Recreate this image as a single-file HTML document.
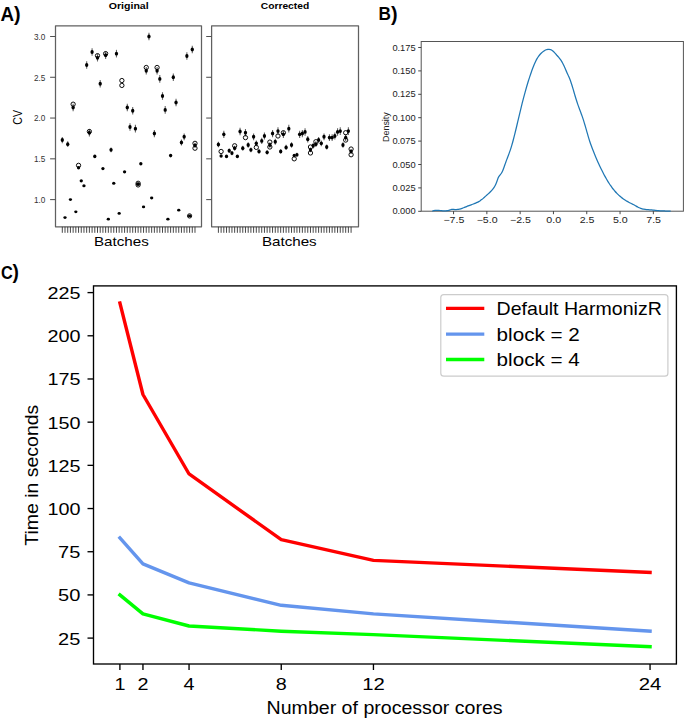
<!DOCTYPE html>
<html><head><meta charset="utf-8"><style>
html,body{margin:0;padding:0;background:#fff;}
svg{display:block;font-family:"Liberation Sans", sans-serif;}
</style></head><body>
<svg width="685" height="719" viewBox="0 0 685 719">
<rect width="685" height="719" fill="#fff"/>
<text x="0.5" y="21.0" font-size="19.8" font-weight="bold" textLength="13.6" lengthAdjust="spacingAndGlyphs" fill="#000">A</text>
<text x="13.9" y="20.9" font-size="19.6" font-weight="bold" textLength="6.6" lengthAdjust="spacingAndGlyphs" fill="#000">)</text>
<text x="128.7" y="8.8" font-size="9.6" text-anchor="middle" font-weight="bold" textLength="39.9" lengthAdjust="spacingAndGlyphs" fill="#000">Original</text>
<text x="285.0" y="8.8" font-size="9.6" text-anchor="middle" font-weight="bold" textLength="48.4" lengthAdjust="spacingAndGlyphs" fill="#000">Corrected</text>
<rect x="55.5" y="25.8" width="146.0" height="201.0" fill="none" stroke="#606060" stroke-width="1.25" stroke-linejoin="round"/>
<line x1="50.1" y1="36.5" x2="55.5" y2="36.5" stroke="#505050" stroke-width="1.05"/>
<text x="45.3" y="39.9" font-size="9" text-anchor="end" textLength="11.4" lengthAdjust="spacingAndGlyphs" fill="#333">3.0</text>
<line x1="50.1" y1="77.275" x2="55.5" y2="77.275" stroke="#505050" stroke-width="1.05"/>
<text x="45.3" y="80.67500000000001" font-size="9" text-anchor="end" textLength="11.4" lengthAdjust="spacingAndGlyphs" fill="#333">2.5</text>
<line x1="50.1" y1="118.05" x2="55.5" y2="118.05" stroke="#505050" stroke-width="1.05"/>
<text x="45.3" y="121.45" font-size="9" text-anchor="end" textLength="11.4" lengthAdjust="spacingAndGlyphs" fill="#333">2.0</text>
<line x1="50.1" y1="158.825" x2="55.5" y2="158.825" stroke="#505050" stroke-width="1.05"/>
<text x="45.3" y="162.225" font-size="9" text-anchor="end" textLength="11.4" lengthAdjust="spacingAndGlyphs" fill="#333">1.5</text>
<line x1="50.1" y1="199.6" x2="55.5" y2="199.6" stroke="#505050" stroke-width="1.05"/>
<text x="45.3" y="203.0" font-size="9" text-anchor="end" textLength="11.4" lengthAdjust="spacingAndGlyphs" fill="#333">1.0</text>
<line x1="62.30" y1="226.8" x2="62.30" y2="232.8" stroke="#333" stroke-width="0.9"/>
<line x1="65.01" y1="226.8" x2="65.01" y2="232.8" stroke="#333" stroke-width="0.9"/>
<line x1="67.72" y1="226.8" x2="67.72" y2="232.8" stroke="#333" stroke-width="0.9"/>
<line x1="70.42" y1="226.8" x2="70.42" y2="232.8" stroke="#333" stroke-width="0.9"/>
<line x1="73.13" y1="226.8" x2="73.13" y2="232.8" stroke="#333" stroke-width="0.9"/>
<line x1="75.84" y1="226.8" x2="75.84" y2="232.8" stroke="#333" stroke-width="0.9"/>
<line x1="78.55" y1="226.8" x2="78.55" y2="232.8" stroke="#333" stroke-width="0.9"/>
<line x1="81.26" y1="226.8" x2="81.26" y2="232.8" stroke="#333" stroke-width="0.9"/>
<line x1="83.96" y1="226.8" x2="83.96" y2="232.8" stroke="#333" stroke-width="0.9"/>
<line x1="86.67" y1="226.8" x2="86.67" y2="232.8" stroke="#333" stroke-width="0.9"/>
<line x1="89.38" y1="226.8" x2="89.38" y2="232.8" stroke="#333" stroke-width="0.9"/>
<line x1="92.09" y1="226.8" x2="92.09" y2="232.8" stroke="#333" stroke-width="0.9"/>
<line x1="94.80" y1="226.8" x2="94.80" y2="232.8" stroke="#333" stroke-width="0.9"/>
<line x1="97.50" y1="226.8" x2="97.50" y2="232.8" stroke="#333" stroke-width="0.9"/>
<line x1="100.21" y1="226.8" x2="100.21" y2="232.8" stroke="#333" stroke-width="0.9"/>
<line x1="102.92" y1="226.8" x2="102.92" y2="232.8" stroke="#333" stroke-width="0.9"/>
<line x1="105.63" y1="226.8" x2="105.63" y2="232.8" stroke="#333" stroke-width="0.9"/>
<line x1="108.34" y1="226.8" x2="108.34" y2="232.8" stroke="#333" stroke-width="0.9"/>
<line x1="111.04" y1="226.8" x2="111.04" y2="232.8" stroke="#333" stroke-width="0.9"/>
<line x1="113.75" y1="226.8" x2="113.75" y2="232.8" stroke="#333" stroke-width="0.9"/>
<line x1="116.46" y1="226.8" x2="116.46" y2="232.8" stroke="#333" stroke-width="0.9"/>
<line x1="119.17" y1="226.8" x2="119.17" y2="232.8" stroke="#333" stroke-width="0.9"/>
<line x1="121.88" y1="226.8" x2="121.88" y2="232.8" stroke="#333" stroke-width="0.9"/>
<line x1="124.58" y1="226.8" x2="124.58" y2="232.8" stroke="#333" stroke-width="0.9"/>
<line x1="127.29" y1="226.8" x2="127.29" y2="232.8" stroke="#333" stroke-width="0.9"/>
<line x1="130.00" y1="226.8" x2="130.00" y2="232.8" stroke="#333" stroke-width="0.9"/>
<line x1="132.71" y1="226.8" x2="132.71" y2="232.8" stroke="#333" stroke-width="0.9"/>
<line x1="135.42" y1="226.8" x2="135.42" y2="232.8" stroke="#333" stroke-width="0.9"/>
<line x1="138.12" y1="226.8" x2="138.12" y2="232.8" stroke="#333" stroke-width="0.9"/>
<line x1="140.83" y1="226.8" x2="140.83" y2="232.8" stroke="#333" stroke-width="0.9"/>
<line x1="143.54" y1="226.8" x2="143.54" y2="232.8" stroke="#333" stroke-width="0.9"/>
<line x1="146.25" y1="226.8" x2="146.25" y2="232.8" stroke="#333" stroke-width="0.9"/>
<line x1="148.96" y1="226.8" x2="148.96" y2="232.8" stroke="#333" stroke-width="0.9"/>
<line x1="151.66" y1="226.8" x2="151.66" y2="232.8" stroke="#333" stroke-width="0.9"/>
<line x1="154.37" y1="226.8" x2="154.37" y2="232.8" stroke="#333" stroke-width="0.9"/>
<line x1="157.08" y1="226.8" x2="157.08" y2="232.8" stroke="#333" stroke-width="0.9"/>
<line x1="159.79" y1="226.8" x2="159.79" y2="232.8" stroke="#333" stroke-width="0.9"/>
<line x1="162.50" y1="226.8" x2="162.50" y2="232.8" stroke="#333" stroke-width="0.9"/>
<line x1="165.20" y1="226.8" x2="165.20" y2="232.8" stroke="#333" stroke-width="0.9"/>
<line x1="167.91" y1="226.8" x2="167.91" y2="232.8" stroke="#333" stroke-width="0.9"/>
<line x1="170.62" y1="226.8" x2="170.62" y2="232.8" stroke="#333" stroke-width="0.9"/>
<line x1="173.33" y1="226.8" x2="173.33" y2="232.8" stroke="#333" stroke-width="0.9"/>
<line x1="176.04" y1="226.8" x2="176.04" y2="232.8" stroke="#333" stroke-width="0.9"/>
<line x1="178.74" y1="226.8" x2="178.74" y2="232.8" stroke="#333" stroke-width="0.9"/>
<line x1="181.45" y1="226.8" x2="181.45" y2="232.8" stroke="#333" stroke-width="0.9"/>
<line x1="184.16" y1="226.8" x2="184.16" y2="232.8" stroke="#333" stroke-width="0.9"/>
<line x1="186.87" y1="226.8" x2="186.87" y2="232.8" stroke="#333" stroke-width="0.9"/>
<line x1="189.58" y1="226.8" x2="189.58" y2="232.8" stroke="#333" stroke-width="0.9"/>
<line x1="192.28" y1="226.8" x2="192.28" y2="232.8" stroke="#333" stroke-width="0.9"/>
<line x1="194.99" y1="226.8" x2="194.99" y2="232.8" stroke="#333" stroke-width="0.9"/>
<rect x="211.6" y="25.8" width="146.9" height="201.0" fill="none" stroke="#606060" stroke-width="1.25" stroke-linejoin="round"/>
<line x1="206.2" y1="36.5" x2="211.6" y2="36.5" stroke="#505050" stroke-width="1.05"/>
<line x1="206.2" y1="77.275" x2="211.6" y2="77.275" stroke="#505050" stroke-width="1.05"/>
<line x1="206.2" y1="118.05" x2="211.6" y2="118.05" stroke="#505050" stroke-width="1.05"/>
<line x1="206.2" y1="158.825" x2="211.6" y2="158.825" stroke="#505050" stroke-width="1.05"/>
<line x1="206.2" y1="199.6" x2="211.6" y2="199.6" stroke="#505050" stroke-width="1.05"/>
<line x1="218.40" y1="226.8" x2="218.40" y2="232.8" stroke="#333" stroke-width="0.9"/>
<line x1="221.11" y1="226.8" x2="221.11" y2="232.8" stroke="#333" stroke-width="0.9"/>
<line x1="223.82" y1="226.8" x2="223.82" y2="232.8" stroke="#333" stroke-width="0.9"/>
<line x1="226.52" y1="226.8" x2="226.52" y2="232.8" stroke="#333" stroke-width="0.9"/>
<line x1="229.23" y1="226.8" x2="229.23" y2="232.8" stroke="#333" stroke-width="0.9"/>
<line x1="231.94" y1="226.8" x2="231.94" y2="232.8" stroke="#333" stroke-width="0.9"/>
<line x1="234.65" y1="226.8" x2="234.65" y2="232.8" stroke="#333" stroke-width="0.9"/>
<line x1="237.36" y1="226.8" x2="237.36" y2="232.8" stroke="#333" stroke-width="0.9"/>
<line x1="240.06" y1="226.8" x2="240.06" y2="232.8" stroke="#333" stroke-width="0.9"/>
<line x1="242.77" y1="226.8" x2="242.77" y2="232.8" stroke="#333" stroke-width="0.9"/>
<line x1="245.48" y1="226.8" x2="245.48" y2="232.8" stroke="#333" stroke-width="0.9"/>
<line x1="248.19" y1="226.8" x2="248.19" y2="232.8" stroke="#333" stroke-width="0.9"/>
<line x1="250.90" y1="226.8" x2="250.90" y2="232.8" stroke="#333" stroke-width="0.9"/>
<line x1="253.60" y1="226.8" x2="253.60" y2="232.8" stroke="#333" stroke-width="0.9"/>
<line x1="256.31" y1="226.8" x2="256.31" y2="232.8" stroke="#333" stroke-width="0.9"/>
<line x1="259.02" y1="226.8" x2="259.02" y2="232.8" stroke="#333" stroke-width="0.9"/>
<line x1="261.73" y1="226.8" x2="261.73" y2="232.8" stroke="#333" stroke-width="0.9"/>
<line x1="264.44" y1="226.8" x2="264.44" y2="232.8" stroke="#333" stroke-width="0.9"/>
<line x1="267.14" y1="226.8" x2="267.14" y2="232.8" stroke="#333" stroke-width="0.9"/>
<line x1="269.85" y1="226.8" x2="269.85" y2="232.8" stroke="#333" stroke-width="0.9"/>
<line x1="272.56" y1="226.8" x2="272.56" y2="232.8" stroke="#333" stroke-width="0.9"/>
<line x1="275.27" y1="226.8" x2="275.27" y2="232.8" stroke="#333" stroke-width="0.9"/>
<line x1="277.98" y1="226.8" x2="277.98" y2="232.8" stroke="#333" stroke-width="0.9"/>
<line x1="280.68" y1="226.8" x2="280.68" y2="232.8" stroke="#333" stroke-width="0.9"/>
<line x1="283.39" y1="226.8" x2="283.39" y2="232.8" stroke="#333" stroke-width="0.9"/>
<line x1="286.10" y1="226.8" x2="286.10" y2="232.8" stroke="#333" stroke-width="0.9"/>
<line x1="288.81" y1="226.8" x2="288.81" y2="232.8" stroke="#333" stroke-width="0.9"/>
<line x1="291.52" y1="226.8" x2="291.52" y2="232.8" stroke="#333" stroke-width="0.9"/>
<line x1="294.22" y1="226.8" x2="294.22" y2="232.8" stroke="#333" stroke-width="0.9"/>
<line x1="296.93" y1="226.8" x2="296.93" y2="232.8" stroke="#333" stroke-width="0.9"/>
<line x1="299.64" y1="226.8" x2="299.64" y2="232.8" stroke="#333" stroke-width="0.9"/>
<line x1="302.35" y1="226.8" x2="302.35" y2="232.8" stroke="#333" stroke-width="0.9"/>
<line x1="305.06" y1="226.8" x2="305.06" y2="232.8" stroke="#333" stroke-width="0.9"/>
<line x1="307.76" y1="226.8" x2="307.76" y2="232.8" stroke="#333" stroke-width="0.9"/>
<line x1="310.47" y1="226.8" x2="310.47" y2="232.8" stroke="#333" stroke-width="0.9"/>
<line x1="313.18" y1="226.8" x2="313.18" y2="232.8" stroke="#333" stroke-width="0.9"/>
<line x1="315.89" y1="226.8" x2="315.89" y2="232.8" stroke="#333" stroke-width="0.9"/>
<line x1="318.60" y1="226.8" x2="318.60" y2="232.8" stroke="#333" stroke-width="0.9"/>
<line x1="321.30" y1="226.8" x2="321.30" y2="232.8" stroke="#333" stroke-width="0.9"/>
<line x1="324.01" y1="226.8" x2="324.01" y2="232.8" stroke="#333" stroke-width="0.9"/>
<line x1="326.72" y1="226.8" x2="326.72" y2="232.8" stroke="#333" stroke-width="0.9"/>
<line x1="329.43" y1="226.8" x2="329.43" y2="232.8" stroke="#333" stroke-width="0.9"/>
<line x1="332.14" y1="226.8" x2="332.14" y2="232.8" stroke="#333" stroke-width="0.9"/>
<line x1="334.84" y1="226.8" x2="334.84" y2="232.8" stroke="#333" stroke-width="0.9"/>
<line x1="337.55" y1="226.8" x2="337.55" y2="232.8" stroke="#333" stroke-width="0.9"/>
<line x1="340.26" y1="226.8" x2="340.26" y2="232.8" stroke="#333" stroke-width="0.9"/>
<line x1="342.97" y1="226.8" x2="342.97" y2="232.8" stroke="#333" stroke-width="0.9"/>
<line x1="345.68" y1="226.8" x2="345.68" y2="232.8" stroke="#333" stroke-width="0.9"/>
<line x1="348.38" y1="226.8" x2="348.38" y2="232.8" stroke="#333" stroke-width="0.9"/>
<line x1="351.09" y1="226.8" x2="351.09" y2="232.8" stroke="#333" stroke-width="0.9"/>
<text x="121.4" y="245.8" font-size="13" text-anchor="middle" textLength="54.8" lengthAdjust="spacingAndGlyphs" fill="#000">Batches</text>
<text x="289.3" y="245.8" font-size="13" text-anchor="middle" textLength="54.8" lengthAdjust="spacingAndGlyphs" fill="#000">Batches</text>
<text x="22" y="117.3" font-size="12.0" text-anchor="middle" textLength="14.8" lengthAdjust="spacingAndGlyphs" transform="rotate(-90 22 117.3)" fill="#000">CV</text>
<line x1="62.30" y1="136.95" x2="62.30" y2="143.19" stroke="#666" stroke-width="1.1"/>
<ellipse cx="62.30" cy="140.07" rx="1.65" ry="1.95" fill="#000"/>
<line x1="67.72" y1="141.35" x2="67.72" y2="146.94" stroke="#666" stroke-width="1.1"/>
<ellipse cx="67.72" cy="144.15" rx="1.65" ry="1.94" fill="#000"/>
<ellipse cx="70.42" cy="199.60" rx="1.65" ry="1.43" fill="#000"/>
<ellipse cx="65.01" cy="217.54" rx="1.65" ry="1.35" fill="#000"/>
<line x1="73.13" y1="103.65" x2="73.13" y2="111.25" stroke="#666" stroke-width="1.1"/>
<ellipse cx="73.13" cy="107.45" rx="1.65" ry="1.95" fill="#000"/>
<circle cx="73.13" cy="104.19" r="2.15" fill="none" stroke="#000" stroke-width="0.95"/>
<ellipse cx="75.84" cy="211.83" rx="1.65" ry="1.35" fill="#000"/>
<ellipse cx="78.55" cy="167.80" rx="1.65" ry="1.72" fill="#000"/>
<circle cx="78.55" cy="165.35" r="2.15" fill="none" stroke="#000" stroke-width="0.95"/>
<ellipse cx="81.26" cy="180.84" rx="1.65" ry="1.60" fill="#000"/>
<ellipse cx="83.96" cy="185.74" rx="1.65" ry="1.55" fill="#000"/>
<line x1="86.67" y1="61.24" x2="86.67" y2="68.84" stroke="#666" stroke-width="1.1"/>
<ellipse cx="86.67" cy="65.04" rx="1.65" ry="1.95" fill="#000"/>
<line x1="89.38" y1="129.02" x2="89.38" y2="136.43" stroke="#666" stroke-width="1.1"/>
<ellipse cx="89.38" cy="132.73" rx="1.65" ry="1.95" fill="#000"/>
<circle cx="89.38" cy="131.51" r="2.15" fill="none" stroke="#000" stroke-width="0.95"/>
<line x1="92.09" y1="48.19" x2="92.09" y2="55.79" stroke="#666" stroke-width="1.1"/>
<ellipse cx="92.09" cy="51.99" rx="1.65" ry="1.95" fill="#000"/>
<ellipse cx="94.80" cy="156.38" rx="1.65" ry="1.82" fill="#000"/>
<line x1="97.50" y1="53.90" x2="97.50" y2="61.50" stroke="#666" stroke-width="1.1"/>
<ellipse cx="97.50" cy="57.70" rx="1.65" ry="1.95" fill="#000"/>
<circle cx="97.50" cy="55.66" r="2.15" fill="none" stroke="#000" stroke-width="0.95"/>
<line x1="100.21" y1="80.00" x2="100.21" y2="87.60" stroke="#666" stroke-width="1.1"/>
<ellipse cx="100.21" cy="83.80" rx="1.65" ry="1.95" fill="#000"/>
<ellipse cx="102.92" cy="168.61" rx="1.65" ry="1.71" fill="#000"/>
<line x1="105.63" y1="51.46" x2="105.63" y2="59.06" stroke="#666" stroke-width="1.1"/>
<ellipse cx="105.63" cy="55.26" rx="1.65" ry="1.95" fill="#000"/>
<circle cx="105.63" cy="53.63" r="2.15" fill="none" stroke="#000" stroke-width="0.95"/>
<ellipse cx="108.34" cy="219.17" rx="1.65" ry="1.35" fill="#000"/>
<line x1="111.04" y1="147.51" x2="111.04" y2="152.19" stroke="#666" stroke-width="1.1"/>
<ellipse cx="111.04" cy="149.85" rx="1.65" ry="1.88" fill="#000"/>
<ellipse cx="113.75" cy="183.29" rx="1.65" ry="1.57" fill="#000"/>
<line x1="116.46" y1="49.83" x2="116.46" y2="57.43" stroke="#666" stroke-width="1.1"/>
<ellipse cx="116.46" cy="53.63" rx="1.65" ry="1.95" fill="#000"/>
<ellipse cx="119.17" cy="213.46" rx="1.65" ry="1.35" fill="#000"/>
<circle cx="121.88" cy="80.54" r="2.15" fill="none" stroke="#000" stroke-width="0.95"/>
<circle cx="121.88" cy="85.43" r="2.15" fill="none" stroke="#000" stroke-width="0.95"/>
<ellipse cx="124.58" cy="171.87" rx="1.65" ry="1.68" fill="#000"/>
<line x1="127.29" y1="103.65" x2="127.29" y2="111.25" stroke="#666" stroke-width="1.1"/>
<ellipse cx="127.29" cy="107.45" rx="1.65" ry="1.95" fill="#000"/>
<line x1="130.00" y1="123.22" x2="130.00" y2="130.82" stroke="#666" stroke-width="1.1"/>
<ellipse cx="130.00" cy="127.02" rx="1.65" ry="1.95" fill="#000"/>
<line x1="132.71" y1="106.91" x2="132.71" y2="114.51" stroke="#666" stroke-width="1.1"/>
<ellipse cx="132.71" cy="110.71" rx="1.65" ry="1.95" fill="#000"/>
<line x1="135.42" y1="124.85" x2="135.42" y2="132.45" stroke="#666" stroke-width="1.1"/>
<ellipse cx="135.42" cy="128.65" rx="1.65" ry="1.95" fill="#000"/>
<circle cx="138.12" cy="183.29" r="2.15" fill="none" stroke="#000" stroke-width="0.95"/>
<circle cx="138.12" cy="184.92" r="2.15" fill="none" stroke="#000" stroke-width="0.95"/>
<ellipse cx="138.12" cy="184.11" rx="1.65" ry="1.57" fill="#000"/>
<ellipse cx="140.83" cy="163.72" rx="1.65" ry="1.75" fill="#000"/>
<ellipse cx="143.54" cy="206.94" rx="1.65" ry="1.36" fill="#000"/>
<line x1="146.25" y1="66.95" x2="146.25" y2="74.55" stroke="#666" stroke-width="1.1"/>
<ellipse cx="146.25" cy="70.75" rx="1.65" ry="1.95" fill="#000"/>
<circle cx="146.25" cy="67.49" r="2.15" fill="none" stroke="#000" stroke-width="0.95"/>
<line x1="148.96" y1="32.70" x2="148.96" y2="40.30" stroke="#666" stroke-width="1.1"/>
<ellipse cx="148.96" cy="36.50" rx="1.65" ry="1.95" fill="#000"/>
<ellipse cx="151.66" cy="197.97" rx="1.65" ry="1.44" fill="#000"/>
<line x1="154.37" y1="129.90" x2="154.37" y2="137.18" stroke="#666" stroke-width="1.1"/>
<ellipse cx="154.37" cy="133.54" rx="1.65" ry="1.95" fill="#000"/>
<line x1="157.08" y1="66.95" x2="157.08" y2="74.55" stroke="#666" stroke-width="1.1"/>
<ellipse cx="157.08" cy="70.75" rx="1.65" ry="1.95" fill="#000"/>
<circle cx="157.08" cy="67.49" r="2.15" fill="none" stroke="#000" stroke-width="0.95"/>
<line x1="159.79" y1="75.11" x2="159.79" y2="82.71" stroke="#666" stroke-width="1.1"/>
<ellipse cx="159.79" cy="78.91" rx="1.65" ry="1.95" fill="#000"/>
<line x1="162.50" y1="92.23" x2="162.50" y2="99.83" stroke="#666" stroke-width="1.1"/>
<ellipse cx="162.50" cy="96.03" rx="1.65" ry="1.95" fill="#000"/>
<line x1="165.20" y1="106.09" x2="165.20" y2="113.69" stroke="#666" stroke-width="1.1"/>
<ellipse cx="165.20" cy="109.89" rx="1.65" ry="1.95" fill="#000"/>
<ellipse cx="167.91" cy="219.17" rx="1.65" ry="1.35" fill="#000"/>
<ellipse cx="170.62" cy="155.56" rx="1.65" ry="1.83" fill="#000"/>
<line x1="173.33" y1="73.48" x2="173.33" y2="81.08" stroke="#666" stroke-width="1.1"/>
<ellipse cx="173.33" cy="77.28" rx="1.65" ry="1.95" fill="#000"/>
<line x1="176.04" y1="98.76" x2="176.04" y2="106.36" stroke="#666" stroke-width="1.1"/>
<ellipse cx="176.04" cy="102.56" rx="1.65" ry="1.95" fill="#000"/>
<ellipse cx="178.74" cy="210.20" rx="1.65" ry="1.35" fill="#000"/>
<line x1="181.45" y1="139.59" x2="181.45" y2="145.44" stroke="#666" stroke-width="1.1"/>
<ellipse cx="181.45" cy="142.51" rx="1.65" ry="1.95" fill="#000"/>
<line x1="184.16" y1="133.43" x2="184.16" y2="140.19" stroke="#666" stroke-width="1.1"/>
<ellipse cx="184.16" cy="136.81" rx="1.65" ry="1.95" fill="#000"/>
<line x1="186.87" y1="52.27" x2="186.87" y2="59.87" stroke="#666" stroke-width="1.1"/>
<ellipse cx="186.87" cy="56.07" rx="1.65" ry="1.95" fill="#000"/>
<circle cx="189.58" cy="215.91" r="2.15" fill="none" stroke="#000" stroke-width="0.95"/>
<ellipse cx="189.58" cy="215.91" rx="1.65" ry="1.35" fill="#000"/>
<line x1="192.28" y1="45.75" x2="192.28" y2="53.35" stroke="#666" stroke-width="1.1"/>
<ellipse cx="192.28" cy="49.55" rx="1.65" ry="1.95" fill="#000"/>
<circle cx="194.99" cy="143.33" r="2.15" fill="none" stroke="#000" stroke-width="0.95"/>
<circle cx="194.99" cy="148.22" r="2.15" fill="none" stroke="#000" stroke-width="0.95"/>
<line x1="194.99" y1="142.67" x2="194.99" y2="148.07" stroke="#666" stroke-width="1.1"/>
<ellipse cx="194.99" cy="145.37" rx="1.65" ry="1.92" fill="#000"/>
<line x1="218.40" y1="141.70" x2="218.40" y2="147.24" stroke="#666" stroke-width="1.1"/>
<ellipse cx="218.40" cy="144.47" rx="1.65" ry="1.93" fill="#000"/>
<ellipse cx="221.11" cy="155.97" rx="1.65" ry="1.83" fill="#000"/>
<circle cx="221.11" cy="151.49" r="2.15" fill="none" stroke="#000" stroke-width="0.95"/>
<line x1="223.82" y1="130.79" x2="223.82" y2="137.94" stroke="#666" stroke-width="1.1"/>
<ellipse cx="223.82" cy="134.36" rx="1.65" ry="1.95" fill="#000"/>
<ellipse cx="226.52" cy="156.38" rx="1.65" ry="1.82" fill="#000"/>
<line x1="229.23" y1="148.39" x2="229.23" y2="152.94" stroke="#666" stroke-width="1.1"/>
<ellipse cx="229.23" cy="150.67" rx="1.65" ry="1.88" fill="#000"/>
<line x1="231.94" y1="151.04" x2="231.94" y2="155.20" stroke="#666" stroke-width="1.1"/>
<ellipse cx="231.94" cy="153.12" rx="1.65" ry="1.85" fill="#000"/>
<line x1="234.65" y1="145.75" x2="234.65" y2="150.69" stroke="#666" stroke-width="1.1"/>
<ellipse cx="234.65" cy="148.22" rx="1.65" ry="1.90" fill="#000"/>
<circle cx="234.65" cy="145.78" r="2.15" fill="none" stroke="#000" stroke-width="0.95"/>
<ellipse cx="237.36" cy="156.38" rx="1.65" ry="1.82" fill="#000"/>
<line x1="240.06" y1="127.71" x2="240.06" y2="135.31" stroke="#666" stroke-width="1.1"/>
<ellipse cx="240.06" cy="131.51" rx="1.65" ry="1.95" fill="#000"/>
<line x1="242.77" y1="145.75" x2="242.77" y2="150.69" stroke="#666" stroke-width="1.1"/>
<ellipse cx="242.77" cy="148.22" rx="1.65" ry="1.90" fill="#000"/>
<line x1="245.48" y1="129.02" x2="245.48" y2="136.43" stroke="#666" stroke-width="1.1"/>
<ellipse cx="245.48" cy="132.73" rx="1.65" ry="1.95" fill="#000"/>
<circle cx="245.48" cy="137.62" r="2.15" fill="none" stroke="#000" stroke-width="0.95"/>
<line x1="248.19" y1="142.23" x2="248.19" y2="147.69" stroke="#666" stroke-width="1.1"/>
<ellipse cx="248.19" cy="144.96" rx="1.65" ry="1.93" fill="#000"/>
<line x1="250.90" y1="147.51" x2="250.90" y2="152.19" stroke="#666" stroke-width="1.1"/>
<ellipse cx="250.90" cy="149.85" rx="1.65" ry="1.88" fill="#000"/>
<line x1="253.60" y1="133.43" x2="253.60" y2="140.19" stroke="#666" stroke-width="1.1"/>
<ellipse cx="253.60" cy="136.81" rx="1.65" ry="1.95" fill="#000"/>
<line x1="256.31" y1="140.47" x2="256.31" y2="146.19" stroke="#666" stroke-width="1.1"/>
<ellipse cx="256.31" cy="143.33" rx="1.65" ry="1.94" fill="#000"/>
<circle cx="256.31" cy="147.41" r="2.15" fill="none" stroke="#000" stroke-width="0.95"/>
<line x1="259.02" y1="149.28" x2="259.02" y2="153.70" stroke="#666" stroke-width="1.1"/>
<ellipse cx="259.02" cy="151.49" rx="1.65" ry="1.87" fill="#000"/>
<line x1="261.73" y1="137.83" x2="261.73" y2="143.94" stroke="#666" stroke-width="1.1"/>
<ellipse cx="261.73" cy="140.88" rx="1.65" ry="1.95" fill="#000"/>
<line x1="264.44" y1="132.55" x2="264.44" y2="139.44" stroke="#666" stroke-width="1.1"/>
<ellipse cx="264.44" cy="135.99" rx="1.65" ry="1.95" fill="#000"/>
<line x1="267.14" y1="150.16" x2="267.14" y2="154.45" stroke="#666" stroke-width="1.1"/>
<ellipse cx="267.14" cy="152.30" rx="1.65" ry="1.86" fill="#000"/>
<line x1="269.85" y1="142.23" x2="269.85" y2="147.69" stroke="#666" stroke-width="1.1"/>
<ellipse cx="269.85" cy="144.96" rx="1.65" ry="1.93" fill="#000"/>
<circle cx="269.85" cy="142.11" r="2.15" fill="none" stroke="#000" stroke-width="0.95"/>
<circle cx="269.85" cy="147.00" r="2.15" fill="none" stroke="#000" stroke-width="0.95"/>
<line x1="272.56" y1="129.90" x2="272.56" y2="137.18" stroke="#666" stroke-width="1.1"/>
<ellipse cx="272.56" cy="133.54" rx="1.65" ry="1.95" fill="#000"/>
<line x1="275.27" y1="138.71" x2="275.27" y2="144.69" stroke="#666" stroke-width="1.1"/>
<ellipse cx="275.27" cy="141.70" rx="1.65" ry="1.95" fill="#000"/>
<line x1="277.98" y1="127.30" x2="277.98" y2="134.90" stroke="#666" stroke-width="1.1"/>
<ellipse cx="277.98" cy="131.10" rx="1.65" ry="1.95" fill="#000"/>
<circle cx="277.98" cy="135.99" r="2.15" fill="none" stroke="#000" stroke-width="0.95"/>
<line x1="280.68" y1="149.28" x2="280.68" y2="153.70" stroke="#666" stroke-width="1.1"/>
<ellipse cx="280.68" cy="151.49" rx="1.65" ry="1.87" fill="#000"/>
<line x1="283.39" y1="130.79" x2="283.39" y2="137.94" stroke="#666" stroke-width="1.1"/>
<ellipse cx="283.39" cy="134.36" rx="1.65" ry="1.95" fill="#000"/>
<circle cx="283.39" cy="132.73" r="2.15" fill="none" stroke="#000" stroke-width="0.95"/>
<line x1="286.10" y1="144.87" x2="286.10" y2="149.94" stroke="#666" stroke-width="1.1"/>
<ellipse cx="286.10" cy="147.41" rx="1.65" ry="1.91" fill="#000"/>
<line x1="288.81" y1="124.85" x2="288.81" y2="132.45" stroke="#666" stroke-width="1.1"/>
<ellipse cx="288.81" cy="128.65" rx="1.65" ry="1.95" fill="#000"/>
<line x1="291.52" y1="142.23" x2="291.52" y2="147.69" stroke="#666" stroke-width="1.1"/>
<ellipse cx="291.52" cy="144.96" rx="1.65" ry="1.93" fill="#000"/>
<ellipse cx="294.22" cy="155.56" rx="1.65" ry="1.83" fill="#000"/>
<circle cx="294.22" cy="158.82" r="2.15" fill="none" stroke="#000" stroke-width="0.95"/>
<line x1="296.93" y1="152.80" x2="296.93" y2="156.70" stroke="#666" stroke-width="1.1"/>
<ellipse cx="296.93" cy="154.75" rx="1.65" ry="1.84" fill="#000"/>
<line x1="299.64" y1="130.79" x2="299.64" y2="137.94" stroke="#666" stroke-width="1.1"/>
<ellipse cx="299.64" cy="134.36" rx="1.65" ry="1.95" fill="#000"/>
<line x1="302.35" y1="129.90" x2="302.35" y2="137.18" stroke="#666" stroke-width="1.1"/>
<ellipse cx="302.35" cy="133.54" rx="1.65" ry="1.95" fill="#000"/>
<line x1="305.06" y1="128.14" x2="305.06" y2="135.68" stroke="#666" stroke-width="1.1"/>
<ellipse cx="305.06" cy="131.91" rx="1.65" ry="1.95" fill="#000"/>
<line x1="307.76" y1="136.07" x2="307.76" y2="142.44" stroke="#666" stroke-width="1.1"/>
<ellipse cx="307.76" cy="139.25" rx="1.65" ry="1.95" fill="#000"/>
<line x1="310.47" y1="147.51" x2="310.47" y2="152.19" stroke="#666" stroke-width="1.1"/>
<ellipse cx="310.47" cy="149.85" rx="1.65" ry="1.88" fill="#000"/>
<circle cx="310.47" cy="147.00" r="2.15" fill="none" stroke="#000" stroke-width="0.95"/>
<circle cx="310.47" cy="152.95" r="2.15" fill="none" stroke="#000" stroke-width="0.95"/>
<line x1="313.18" y1="143.11" x2="313.18" y2="148.44" stroke="#666" stroke-width="1.1"/>
<ellipse cx="313.18" cy="145.78" rx="1.65" ry="1.92" fill="#000"/>
<line x1="315.89" y1="141.35" x2="315.89" y2="146.94" stroke="#666" stroke-width="1.1"/>
<ellipse cx="315.89" cy="144.15" rx="1.65" ry="1.94" fill="#000"/>
<circle cx="315.89" cy="141.70" r="2.15" fill="none" stroke="#000" stroke-width="0.95"/>
<line x1="318.60" y1="136.95" x2="318.60" y2="143.19" stroke="#666" stroke-width="1.1"/>
<ellipse cx="318.60" cy="140.07" rx="1.65" ry="1.95" fill="#000"/>
<line x1="321.30" y1="140.47" x2="321.30" y2="146.19" stroke="#666" stroke-width="1.1"/>
<ellipse cx="321.30" cy="143.33" rx="1.65" ry="1.94" fill="#000"/>
<line x1="324.01" y1="133.43" x2="324.01" y2="140.19" stroke="#666" stroke-width="1.1"/>
<ellipse cx="324.01" cy="136.81" rx="1.65" ry="1.95" fill="#000"/>
<line x1="326.72" y1="144.43" x2="326.72" y2="149.57" stroke="#666" stroke-width="1.1"/>
<ellipse cx="326.72" cy="147.00" rx="1.65" ry="1.91" fill="#000"/>
<line x1="329.43" y1="134.31" x2="329.43" y2="140.94" stroke="#666" stroke-width="1.1"/>
<ellipse cx="329.43" cy="137.62" rx="1.65" ry="1.95" fill="#000"/>
<line x1="332.14" y1="134.31" x2="332.14" y2="140.94" stroke="#666" stroke-width="1.1"/>
<ellipse cx="332.14" cy="137.62" rx="1.65" ry="1.95" fill="#000"/>
<line x1="334.84" y1="132.55" x2="334.84" y2="139.44" stroke="#666" stroke-width="1.1"/>
<ellipse cx="334.84" cy="135.99" rx="1.65" ry="1.95" fill="#000"/>
<line x1="337.55" y1="128.14" x2="337.55" y2="135.68" stroke="#666" stroke-width="1.1"/>
<ellipse cx="337.55" cy="131.91" rx="1.65" ry="1.95" fill="#000"/>
<line x1="340.26" y1="127.30" x2="340.26" y2="134.90" stroke="#666" stroke-width="1.1"/>
<ellipse cx="340.26" cy="131.10" rx="1.65" ry="1.95" fill="#000"/>
<line x1="342.97" y1="142.23" x2="342.97" y2="147.69" stroke="#666" stroke-width="1.1"/>
<ellipse cx="342.97" cy="144.96" rx="1.65" ry="1.93" fill="#000"/>
<line x1="345.68" y1="134.31" x2="345.68" y2="140.94" stroke="#666" stroke-width="1.1"/>
<ellipse cx="345.68" cy="137.62" rx="1.65" ry="1.95" fill="#000"/>
<circle cx="345.68" cy="132.73" r="2.15" fill="none" stroke="#000" stroke-width="0.95"/>
<circle cx="345.68" cy="140.07" r="2.15" fill="none" stroke="#000" stroke-width="0.95"/>
<line x1="348.38" y1="127.30" x2="348.38" y2="134.90" stroke="#666" stroke-width="1.1"/>
<ellipse cx="348.38" cy="131.10" rx="1.65" ry="1.95" fill="#000"/>
<line x1="351.09" y1="149.28" x2="351.09" y2="153.70" stroke="#666" stroke-width="1.1"/>
<ellipse cx="351.09" cy="151.49" rx="1.65" ry="1.87" fill="#000"/>
<circle cx="351.09" cy="149.04" r="2.15" fill="none" stroke="#000" stroke-width="0.95"/>
<circle cx="351.09" cy="154.75" r="2.15" fill="none" stroke="#000" stroke-width="0.95"/>
<text x="378.4" y="20.4" font-size="19.0" font-weight="bold" textLength="12.4" lengthAdjust="spacingAndGlyphs" fill="#000">B</text>
<text x="391.0" y="20.9" font-size="19.6" font-weight="bold" textLength="6.6" lengthAdjust="spacingAndGlyphs" fill="#000">)</text>
<rect x="421.2" y="41.5" width="262.2" height="169.7" fill="none" stroke="#555" stroke-width="1"/>
<line x1="418.2" y1="211.30" x2="421.2" y2="211.30" stroke="#333" stroke-width="0.9"/>
<text x="415.6" y="214.3" font-size="8.9" text-anchor="end" textLength="23.2" lengthAdjust="spacingAndGlyphs" fill="#222">0.000</text>
<line x1="418.2" y1="187.90" x2="421.2" y2="187.90" stroke="#333" stroke-width="0.9"/>
<text x="415.6" y="190.9" font-size="8.9" text-anchor="end" textLength="23.2" lengthAdjust="spacingAndGlyphs" fill="#222">0.025</text>
<line x1="418.2" y1="164.50" x2="421.2" y2="164.50" stroke="#333" stroke-width="0.9"/>
<text x="415.6" y="167.5" font-size="8.9" text-anchor="end" textLength="23.2" lengthAdjust="spacingAndGlyphs" fill="#222">0.050</text>
<line x1="418.2" y1="141.10" x2="421.2" y2="141.10" stroke="#333" stroke-width="0.9"/>
<text x="415.6" y="144.1" font-size="8.9" text-anchor="end" textLength="23.2" lengthAdjust="spacingAndGlyphs" fill="#222">0.075</text>
<line x1="418.2" y1="117.70" x2="421.2" y2="117.70" stroke="#333" stroke-width="0.9"/>
<text x="415.6" y="120.7" font-size="8.9" text-anchor="end" textLength="23.2" lengthAdjust="spacingAndGlyphs" fill="#222">0.100</text>
<line x1="418.2" y1="94.30" x2="421.2" y2="94.30" stroke="#333" stroke-width="0.9"/>
<text x="415.6" y="97.30000000000001" font-size="8.9" text-anchor="end" textLength="23.2" lengthAdjust="spacingAndGlyphs" fill="#222">0.125</text>
<line x1="418.2" y1="70.90" x2="421.2" y2="70.90" stroke="#333" stroke-width="0.9"/>
<text x="415.6" y="73.89999999999998" font-size="8.9" text-anchor="end" textLength="23.2" lengthAdjust="spacingAndGlyphs" fill="#222">0.150</text>
<line x1="418.2" y1="47.50" x2="421.2" y2="47.50" stroke="#333" stroke-width="0.9"/>
<text x="415.6" y="50.5" font-size="8.9" text-anchor="end" textLength="23.2" lengthAdjust="spacingAndGlyphs" fill="#222">0.175</text>
<line x1="453.55" y1="211.2" x2="453.55" y2="214.2" stroke="#333" stroke-width="0.9"/>
<text x="453.8500000000001" y="222.9" font-size="8.9" text-anchor="middle" textLength="20.9" lengthAdjust="spacingAndGlyphs" fill="#222">−7.5</text>
<line x1="486.85" y1="211.2" x2="486.85" y2="214.2" stroke="#333" stroke-width="0.9"/>
<text x="487.15000000000003" y="222.9" font-size="8.9" text-anchor="middle" textLength="20.9" lengthAdjust="spacingAndGlyphs" fill="#222">−5.0</text>
<line x1="520.15" y1="211.2" x2="520.15" y2="214.2" stroke="#333" stroke-width="0.9"/>
<text x="520.45" y="222.9" font-size="8.9" text-anchor="middle" textLength="20.9" lengthAdjust="spacingAndGlyphs" fill="#222">−2.5</text>
<line x1="553.45" y1="211.2" x2="553.45" y2="214.2" stroke="#333" stroke-width="0.9"/>
<text x="553.75" y="222.9" font-size="8.9" text-anchor="middle" textLength="14.8" lengthAdjust="spacingAndGlyphs" fill="#222">0.0</text>
<line x1="586.75" y1="211.2" x2="586.75" y2="214.2" stroke="#333" stroke-width="0.9"/>
<text x="587.05" y="222.9" font-size="8.9" text-anchor="middle" textLength="14.8" lengthAdjust="spacingAndGlyphs" fill="#222">2.5</text>
<line x1="620.05" y1="211.2" x2="620.05" y2="214.2" stroke="#333" stroke-width="0.9"/>
<text x="620.35" y="222.9" font-size="8.9" text-anchor="middle" textLength="14.8" lengthAdjust="spacingAndGlyphs" fill="#222">5.0</text>
<line x1="653.35" y1="211.2" x2="653.35" y2="214.2" stroke="#333" stroke-width="0.9"/>
<text x="653.65" y="222.9" font-size="8.9" text-anchor="middle" textLength="14.8" lengthAdjust="spacingAndGlyphs" fill="#222">7.5</text>
<text x="388.8" y="127.1" font-size="8.6" text-anchor="middle" textLength="29.8" lengthAdjust="spacingAndGlyphs" transform="rotate(-90 388.8 127.1)" fill="#222">Density</text>
<path d="M432.20,211.10 C432.45,211.03 433.20,210.78 433.70,210.66 C434.20,210.55 434.70,210.48 435.20,210.43 C435.70,210.38 436.20,210.36 436.70,210.35 C437.20,210.34 437.70,210.36 438.20,210.39 C438.70,210.41 439.20,210.46 439.70,210.50 C440.20,210.55 440.70,210.60 441.20,210.65 C441.70,210.69 442.20,210.75 442.70,210.78 C443.20,210.82 443.70,210.85 444.20,210.86 C444.70,210.88 445.20,210.88 445.70,210.85 C446.20,210.82 446.70,210.78 447.20,210.70 C447.70,210.62 448.20,210.50 448.70,210.36 C449.20,210.22 449.70,210.02 450.20,209.87 C450.70,209.72 451.20,209.54 451.70,209.47 C452.20,209.39 452.70,209.40 453.20,209.41 C453.70,209.43 454.20,209.52 454.70,209.55 C455.20,209.58 455.70,209.61 456.20,209.59 C456.70,209.58 457.20,209.53 457.70,209.47 C458.20,209.40 458.70,209.31 459.20,209.20 C459.70,209.10 460.20,208.96 460.70,208.82 C461.20,208.68 461.70,208.51 462.20,208.34 C462.70,208.17 463.20,207.98 463.70,207.79 C464.20,207.60 464.70,207.40 465.20,207.19 C465.70,206.99 466.20,206.78 466.70,206.57 C467.20,206.37 467.70,206.16 468.20,205.95 C468.70,205.75 469.20,205.55 469.70,205.36 C470.20,205.17 470.70,204.99 471.20,204.80 C471.70,204.62 472.20,204.44 472.70,204.26 C473.20,204.07 473.70,203.89 474.20,203.70 C474.70,203.51 475.20,203.31 475.70,203.09 C476.20,202.88 476.70,202.66 477.20,202.41 C477.70,202.17 478.20,201.91 478.70,201.63 C479.20,201.34 479.70,201.04 480.20,200.70 C480.70,200.37 481.20,200.00 481.70,199.61 C482.20,199.22 482.70,198.80 483.20,198.37 C483.70,197.94 484.20,197.49 484.70,197.03 C485.20,196.58 485.70,196.11 486.20,195.65 C486.70,195.19 487.20,194.72 487.70,194.27 C488.20,193.81 488.70,193.38 489.20,192.92 C489.70,192.46 490.20,192.01 490.70,191.51 C491.20,191.01 491.70,190.49 492.20,189.90 C492.70,189.31 493.20,188.69 493.70,187.97 C494.20,187.24 494.70,186.53 495.20,185.54 C495.70,184.55 496.20,183.35 496.70,182.05 C497.20,180.76 497.70,178.88 498.20,177.78 C498.70,176.67 499.20,176.14 499.70,175.43 C500.20,174.72 500.70,174.31 501.20,173.52 C501.70,172.73 502.20,171.83 502.70,170.71 C503.20,169.58 503.70,168.16 504.20,166.78 C504.70,165.40 505.20,163.82 505.70,162.43 C506.20,161.04 506.70,159.73 507.20,158.41 C507.70,157.10 508.20,155.88 508.70,154.54 C509.20,153.20 509.70,151.88 510.20,150.39 C510.70,148.90 511.20,147.30 511.70,145.61 C512.20,143.92 512.70,142.10 513.20,140.23 C513.70,138.36 514.20,136.39 514.70,134.39 C515.20,132.39 515.70,130.31 516.20,128.23 C516.70,126.15 517.20,124.01 517.70,121.90 C518.20,119.78 518.70,117.64 519.20,115.53 C519.70,113.43 520.20,111.33 520.70,109.28 C521.20,107.22 521.70,105.20 522.20,103.22 C522.70,101.24 523.20,99.29 523.70,97.39 C524.20,95.48 524.70,93.62 525.20,91.81 C525.70,90.00 526.20,88.23 526.70,86.51 C527.20,84.80 527.70,83.13 528.20,81.52 C528.70,79.91 529.20,78.35 529.70,76.84 C530.20,75.32 530.70,73.86 531.20,72.45 C531.70,71.03 532.20,69.66 532.70,68.34 C533.20,67.03 533.70,65.75 534.20,64.57 C534.70,63.38 535.20,62.24 535.70,61.21 C536.20,60.19 536.70,59.24 537.20,58.39 C537.70,57.54 538.20,56.79 538.70,56.10 C539.20,55.42 539.70,54.83 540.20,54.27 C540.70,53.72 541.20,53.24 541.70,52.79 C542.20,52.34 542.70,51.93 543.20,51.55 C543.70,51.18 544.20,50.83 544.70,50.53 C545.20,50.24 545.70,49.98 546.20,49.79 C546.70,49.59 547.20,49.44 547.70,49.36 C548.20,49.28 548.70,49.25 549.20,49.31 C549.70,49.36 550.20,49.48 550.70,49.69 C551.20,49.90 551.70,50.19 552.20,50.55 C552.70,50.91 553.20,51.36 553.70,51.83 C554.20,52.30 554.70,52.84 555.20,53.38 C555.70,53.92 556.20,54.50 556.70,55.07 C557.20,55.63 557.70,56.18 558.20,56.76 C558.70,57.34 559.20,57.91 559.70,58.56 C560.20,59.20 560.70,59.87 561.20,60.65 C561.70,61.43 562.20,62.29 562.70,63.24 C563.20,64.19 563.70,65.27 564.20,66.35 C564.70,67.44 565.20,68.61 565.70,69.74 C566.20,70.87 566.70,72.02 567.20,73.13 C567.70,74.23 568.20,75.23 568.70,76.38 C569.20,77.53 569.70,78.67 570.20,80.02 C570.70,81.36 571.20,82.88 571.70,84.45 C572.20,86.02 572.70,87.74 573.20,89.42 C573.70,91.11 574.20,92.89 574.70,94.58 C575.20,96.27 575.70,97.97 576.20,99.56 C576.70,101.16 577.20,102.68 577.70,104.14 C578.20,105.61 578.70,106.97 579.20,108.33 C579.70,109.69 580.20,110.96 580.70,112.30 C581.20,113.64 581.70,114.95 582.20,116.37 C582.70,117.80 583.20,119.28 583.70,120.86 C584.20,122.45 584.70,124.17 585.20,125.88 C585.70,127.59 586.20,129.40 586.70,131.15 C587.20,132.89 587.70,134.68 588.20,136.35 C588.70,138.02 589.20,139.65 589.70,141.19 C590.20,142.72 590.70,144.16 591.20,145.56 C591.70,146.96 592.20,148.27 592.70,149.57 C593.20,150.86 593.70,152.09 594.20,153.32 C594.70,154.54 595.20,155.73 595.70,156.91 C596.20,158.09 596.70,159.25 597.20,160.39 C597.70,161.53 598.20,162.65 598.70,163.74 C599.20,164.84 599.70,165.92 600.20,166.97 C600.70,168.03 601.20,169.06 601.70,170.07 C602.20,171.08 602.70,172.07 603.20,173.03 C603.70,174.00 604.20,174.94 604.70,175.86 C605.20,176.78 605.70,177.67 606.20,178.54 C606.70,179.42 607.20,180.26 607.70,181.08 C608.20,181.90 608.70,182.70 609.20,183.47 C609.70,184.24 610.20,184.99 610.70,185.70 C611.20,186.42 611.70,187.11 612.20,187.78 C612.70,188.45 613.20,189.08 613.70,189.70 C614.20,190.32 614.70,190.91 615.20,191.47 C615.70,192.04 616.20,192.59 616.70,193.11 C617.20,193.63 617.70,194.13 618.20,194.62 C618.70,195.10 619.20,195.56 619.70,196.00 C620.20,196.44 620.70,196.86 621.20,197.27 C621.70,197.67 622.20,198.06 622.70,198.43 C623.20,198.80 623.70,199.15 624.20,199.49 C624.70,199.83 625.20,200.16 625.70,200.47 C626.20,200.78 626.70,201.08 627.20,201.36 C627.70,201.65 628.20,201.92 628.70,202.19 C629.20,202.46 629.70,202.71 630.20,202.97 C630.70,203.23 631.20,203.48 631.70,203.73 C632.20,203.99 632.70,204.24 633.20,204.50 C633.70,204.76 634.20,205.03 634.70,205.30 C635.20,205.58 635.70,205.87 636.20,206.15 C636.70,206.44 637.20,206.74 637.70,207.01 C638.20,207.29 638.70,207.56 639.20,207.79 C639.70,208.03 640.20,208.23 640.70,208.41 C641.20,208.59 641.70,208.74 642.20,208.88 C642.70,209.01 643.20,209.12 643.70,209.21 C644.20,209.31 644.70,209.38 645.20,209.44 C645.70,209.51 646.20,209.56 646.70,209.60 C647.20,209.65 647.70,209.68 648.20,209.72 C648.70,209.75 649.20,209.78 649.70,209.81 C650.20,209.84 650.70,209.87 651.20,209.91 C651.70,209.95 652.20,210.00 652.70,210.04 C653.20,210.09 653.70,210.14 654.20,210.19 C654.70,210.25 655.20,210.30 655.70,210.36 C656.20,210.41 656.70,210.46 657.20,210.52 C657.70,210.57 658.20,210.62 658.70,210.66 C659.20,210.71 659.70,210.75 660.20,210.78 C660.70,210.82 661.20,210.85 661.70,210.87 C662.20,210.90 662.70,210.92 663.20,210.94 C663.70,210.96 664.20,210.98 664.70,210.99 C665.20,211.01 665.70,211.02 666.20,211.04 C666.70,211.05 667.20,211.06 667.70,211.08 C668.20,211.09 668.70,211.10 669.20,211.12 C669.70,211.14 670.45,211.16 670.70,211.17" fill="none" stroke="#1f77b4" stroke-width="1.25" stroke-linejoin="round"/>
<text x="0.9" y="278.7" font-size="18.4" font-weight="bold" textLength="11.8" lengthAdjust="spacingAndGlyphs" fill="#000">C</text>
<text x="12.6" y="279.0" font-size="19.6" font-weight="bold" textLength="6.4" lengthAdjust="spacingAndGlyphs" fill="#000">)</text>
<path d="M119.90,302.97 L142.95,394.52 L189.05,473.99 L281.25,539.63 L373.45,560.37 L650.05,572.46" fill="none" stroke="#ff0000" stroke-width="3.4" stroke-linecap="square" stroke-linejoin="round"/>
<path d="M119.90,537.91 L142.95,563.82 L189.05,582.82 L281.25,605.28 L373.45,613.92 L650.05,631.19" fill="none" stroke="#6495ed" stroke-width="3.4" stroke-linecap="square" stroke-linejoin="round"/>
<path d="M119.90,594.91 L142.95,613.92 L189.05,626.01 L281.25,631.19 L373.45,634.65 L650.05,646.74" fill="none" stroke="#00ff00" stroke-width="3.4" stroke-linecap="square" stroke-linejoin="round"/>
<rect x="93.5" y="285.9" width="582.9" height="378.1" fill="none" stroke="#000" stroke-width="1.35"/>
<line x1="87.5" y1="638.10" x2="93.5" y2="638.10" stroke="#000" stroke-width="1.35"/>
<text x="80.4" y="644.6025" font-size="17" text-anchor="end" textLength="22.3" lengthAdjust="spacingAndGlyphs" fill="#000">25</text>
<line x1="87.5" y1="594.91" x2="93.5" y2="594.91" stroke="#000" stroke-width="1.35"/>
<text x="80.4" y="601.415" font-size="17" text-anchor="end" textLength="22.3" lengthAdjust="spacingAndGlyphs" fill="#000">50</text>
<line x1="87.5" y1="551.73" x2="93.5" y2="551.73" stroke="#000" stroke-width="1.35"/>
<text x="80.4" y="558.2275" font-size="17" text-anchor="end" textLength="22.3" lengthAdjust="spacingAndGlyphs" fill="#000">75</text>
<line x1="87.5" y1="508.54" x2="93.5" y2="508.54" stroke="#000" stroke-width="1.35"/>
<text x="80.4" y="515.04" font-size="17" text-anchor="end" textLength="33.0" lengthAdjust="spacingAndGlyphs" fill="#000">100</text>
<line x1="87.5" y1="465.35" x2="93.5" y2="465.35" stroke="#000" stroke-width="1.35"/>
<text x="80.4" y="471.85249999999996" font-size="17" text-anchor="end" textLength="33.0" lengthAdjust="spacingAndGlyphs" fill="#000">125</text>
<line x1="87.5" y1="422.16" x2="93.5" y2="422.16" stroke="#000" stroke-width="1.35"/>
<text x="80.4" y="428.66499999999996" font-size="17" text-anchor="end" textLength="33.0" lengthAdjust="spacingAndGlyphs" fill="#000">150</text>
<line x1="87.5" y1="378.98" x2="93.5" y2="378.98" stroke="#000" stroke-width="1.35"/>
<text x="80.4" y="385.47749999999996" font-size="17" text-anchor="end" textLength="33.0" lengthAdjust="spacingAndGlyphs" fill="#000">175</text>
<line x1="87.5" y1="335.79" x2="93.5" y2="335.79" stroke="#000" stroke-width="1.35"/>
<text x="80.4" y="342.28999999999996" font-size="17" text-anchor="end" textLength="33.0" lengthAdjust="spacingAndGlyphs" fill="#000">200</text>
<line x1="87.5" y1="292.60" x2="93.5" y2="292.60" stroke="#000" stroke-width="1.35"/>
<text x="80.4" y="299.10249999999996" font-size="17" text-anchor="end" textLength="33.0" lengthAdjust="spacingAndGlyphs" fill="#000">225</text>
<line x1="119.90" y1="664.0" x2="119.90" y2="670.0" stroke="#000" stroke-width="1.35"/>
<text x="119.9" y="689.5" font-size="17" text-anchor="middle" textLength="11" lengthAdjust="spacingAndGlyphs" fill="#000">1</text>
<line x1="142.95" y1="664.0" x2="142.95" y2="670.0" stroke="#000" stroke-width="1.35"/>
<text x="142.95000000000002" y="689.5" font-size="17" text-anchor="middle" textLength="11" lengthAdjust="spacingAndGlyphs" fill="#000">2</text>
<line x1="189.05" y1="664.0" x2="189.05" y2="670.0" stroke="#000" stroke-width="1.35"/>
<text x="189.05" y="689.5" font-size="17" text-anchor="middle" textLength="11" lengthAdjust="spacingAndGlyphs" fill="#000">4</text>
<line x1="281.25" y1="664.0" x2="281.25" y2="670.0" stroke="#000" stroke-width="1.35"/>
<text x="281.25" y="689.5" font-size="17" text-anchor="middle" textLength="11" lengthAdjust="spacingAndGlyphs" fill="#000">8</text>
<line x1="373.45" y1="664.0" x2="373.45" y2="670.0" stroke="#000" stroke-width="1.35"/>
<text x="373.45000000000005" y="689.5" font-size="17" text-anchor="middle" textLength="22.6" lengthAdjust="spacingAndGlyphs" fill="#000">12</text>
<line x1="650.05" y1="664.0" x2="650.05" y2="670.0" stroke="#000" stroke-width="1.35"/>
<text x="650.05" y="689.5" font-size="17" text-anchor="middle" textLength="22.6" lengthAdjust="spacingAndGlyphs" fill="#000">24</text>
<text x="384.6" y="713.6" font-size="17.5" text-anchor="middle" textLength="236" lengthAdjust="spacingAndGlyphs" fill="#000">Number of processor cores</text>
<text x="38.4" y="475.2" font-size="18" text-anchor="middle" textLength="141" lengthAdjust="spacingAndGlyphs" transform="rotate(-90 38.4 475.2)" fill="#000">Time in seconds</text>
<rect x="440.8" y="294.6" width="227.1" height="81.6" rx="3" ry="3" fill="#fff" fill-opacity="0.8" stroke="#cccccc" stroke-width="1.2"/>
<line x1="447.7" y1="308.4" x2="482.6" y2="308.4" stroke="#ff0000" stroke-width="3.4" stroke-linecap="square"/>
<text x="496.6" y="315.0" font-size="17.8" textLength="165.2" lengthAdjust="spacingAndGlyphs" fill="#000">Default HarmonizR</text>
<line x1="447.7" y1="334.1" x2="482.6" y2="334.1" stroke="#6495ed" stroke-width="3.4" stroke-linecap="square"/>
<text x="496.6" y="340.70000000000005" font-size="17.8" textLength="83.2" lengthAdjust="spacingAndGlyphs" fill="#000">block = 2</text>
<line x1="447.7" y1="359.5" x2="482.6" y2="359.5" stroke="#00ff00" stroke-width="3.4" stroke-linecap="square"/>
<text x="496.6" y="366.1" font-size="17.8" textLength="83.2" lengthAdjust="spacingAndGlyphs" fill="#000">block = 4</text>
</svg>
</body></html>
